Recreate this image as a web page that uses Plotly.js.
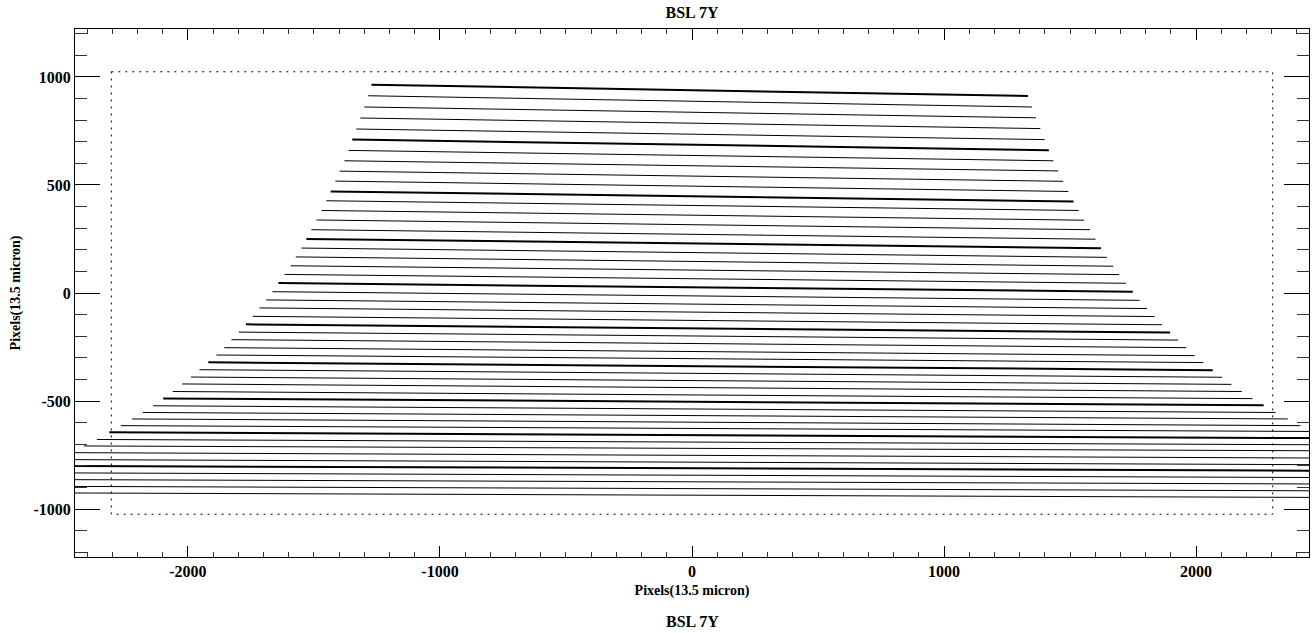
<!DOCTYPE html>
<html><head><meta charset="utf-8">
<script src="https://cdn.plot.ly/plotly-3.0.1.min.js"></script>
<style>html,body{margin:0;padding:0;background:#fff}#chart{width:1312px;height:633px}</style>
</head><body><div id="chart"></div>
<script>
// order endpoints (pixels, 13.5 micron)
const leftX = [-1272, -1285, -1300, -1316, -1332, -1348, -1363, -1379, -1398, -1415, -1434, -1451, -1470, -1490, -1510, -1530, -1550, -1572, -1593, -1617, -1641, -1665, -1690, -1716, -1743, -1770, -1798, -1827, -1856, -1887, -1919, -1954, -1988, -2023, -2060, -2098, -2138, -2179, -2221, -2266, -2312, -2361, -2413, -2467, -2524, -2584, -2647, -2713, -2782, -2854];
const leftY = [964, 913, 861, 810, 759, 710, 660, 612, 564, 518, 470, 427, 382, 338, 293, 250, 208, 167, 126, 86, 46, 6, -32, -69, -108, -145, -181, -216, -253, -287, -321, -355, -389, -421, -456, -488, -522, -553, -583, -614, -645, -678, -708, -739, -771, -800, -832, -863, -894, -924];
const rightX = [1333, 1349, 1365, 1382, 1399, 1416, 1434, 1453, 1473, 1493, 1514, 1534, 1556, 1579, 1601, 1623, 1646, 1671, 1695, 1722, 1749, 1776, 1805, 1835, 1865, 1897, 1928, 1961, 1994, 2029, 2066, 2103, 2140, 2181, 2224, 2268, 2315, 2364, 2414, 2463, 2515, 2572, 2631, 2693, 2758, 2827, 2899, 2975, 3054, 3137];
const rightY = [912, 861, 811, 761, 710, 661, 612, 565, 517, 470, 424, 382, 337, 293, 249, 207, 165, 124, 85, 45, 6, -34, -72, -109, -147, -183, -218, -253, -290, -322, -357, -390, -423, -456, -489, -520, -553, -583, -614, -641, -672, -703, -731, -765, -796, -824, -856, -886, -918, -949];
// CCD outline
const boxX = [-2304, 2304, 2304, -2304, -2304];
const boxY = [1024, 1024, -1024, -1024, 1024];
// ticks
const xTickVals = [-2000, -1000, 0, 1000, 2000];
const xTickText = ['-2000', '-1000', '0', '1000', '2000'];
const yTickVals = [-1000, -500, 0, 500, 1000];
const yTickText = ['-1000', '-500', '0', '500', '1000'];
const titleText = 'BSL 7Y';
const axisLabel = 'Pixels(13.5 micron)';

const serif = 'Liberation Serif, Times New Roman, serif';
const traces = [];
for (let i = 0; i < leftX.length; i++) {
  traces.push({
    type: 'scatter', mode: 'lines',
    x: [leftX[i], rightX[i]], y: [leftY[i], rightY[i]],
    line: {color: '#000', width: (i % 5 === 0) ? 2 : 1},
    hoverinfo: 'skip', showlegend: false
  });
}
traces.push({
  type: 'scatter', mode: 'lines', x: boxX, y: boxY,
  line: {color: '#000', width: 1, dash: '2px,5px'},
  hoverinfo: 'skip', showlegend: false
});

const layout = {
  width: 1312, height: 633,
  paper_bgcolor: '#fff', plot_bgcolor: '#fff',
  margin: {l: 75, r: 3, t: 29, b: 76},
  showlegend: false,
  title: {text: titleText, font: {family: serif, size: 16, weight: 'bold', color: '#000'},
          xref: 'paper', x: 0.5, xanchor: 'center', yref: 'container', y: 0.981, yanchor: 'middle'},
  xaxis: {
    range: [-2448, 2448], showgrid: false, zeroline: false,
    showline: true, linecolor: '#000', linewidth: 1, mirror: 'ticks',
    ticks: 'inside', ticklen: 11, tickwidth: 1, tickcolor: '#000',
    tickmode: 'array', tickvals: xTickVals, ticktext: xTickText,
    tickfont: {family: serif, size: 16, weight: 'bold', color: '#000'},
    minor: {tickmode: 'linear', tick0: 0, dtick: 100, ticklen: 5, tickwidth: 1, tickcolor: '#333', ticks: 'inside', showgrid: false},
    title: {text: axisLabel, font: {family: serif, size: 14, weight: 'bold', color: '#000'}, standoff: 5}
  },
  yaxis: {
    range: [-1222, 1222], showgrid: false, zeroline: false,
    showline: true, linecolor: '#000', linewidth: 1, mirror: 'ticks',
    ticks: 'inside', ticklen: 25, tickwidth: 1, tickcolor: '#000',
    tickmode: 'array', tickvals: yTickVals, ticktext: yTickText,
    tickfont: {family: serif, size: 16, weight: 'bold', color: '#000'},
    minor: {tickmode: 'linear', tick0: 0, dtick: 100, ticklen: 12, tickwidth: 1, tickcolor: '#333', ticks: 'inside', showgrid: false},
    title: {text: axisLabel, font: {family: serif, size: 14, weight: 'bold', color: '#000'}, standoff: 9}
  },
  annotations: [{
    text: titleText, xref: 'paper', yref: 'paper', x: 0.5, y: -0.1225,
    xanchor: 'center', yanchor: 'middle', showarrow: false,
    font: {family: serif, size: 16, weight: 'bold', color: '#000'}
  }]
};
Plotly.newPlot('chart', traces, layout, {staticPlot: true, displayModeBar: false});
</script></body></html>
